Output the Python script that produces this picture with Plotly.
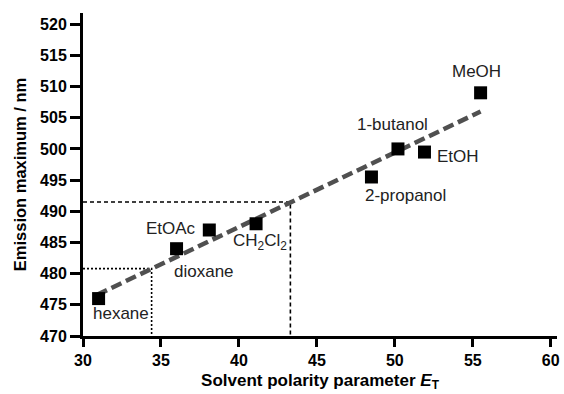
import plotly.graph_objects as go

# Solvatochromic data: emission maximum vs. Dimroth-Reichardt E_T
solvents = ["hexane", "dioxane", "EtOAc", "CH<sub>2</sub>Cl<sub>2</sub>",
            "2-propanol", "1-butanol", "EtOH", "MeOH"]
et_values = [31.0, 36.0, 38.1, 41.1, 48.5, 50.2, 51.9, 55.5]
emission_nm = [476.0, 484.0, 487.0, 488.0, 495.5, 500.0, 499.5, 509.0]

# Linear fit line (end points)
fit_x = [30.9, 55.5]
fit_y = [476.6, 506.0]

# Read-off guides: (E_T, emission)
guide_dashed = (43.3, 491.5)
guide_dotted = (34.4, 480.8)

x_ticks = [30, 35, 40, 45, 50, 55, 60]
y_ticks = [470, 475, 480, 485, 490, 495, 500, 505, 510, 515, 520]

FONT = "Liberation Sans, Arial, sans-serif"

# Label placement relative to each marker (pixels, +y is up)
label_offsets = {
    "hexane": (22, -15),
    "dioxane": (27, -23),
    "EtOAc": (-38, 2),
    "CH<sub>2</sub>Cl<sub>2</sub>": (4, -18),
    "2-propanol": (34, -19),
    "1-butanol": (-5, 24),
    "EtOH": (34, -4),
    "MeOH": (-4, 21),
}

fig = go.Figure()

# guide lines
gx, gy = guide_dashed
fig.add_trace(go.Scatter(x=[30, gx, gx], y=[gy, gy, 470], mode="lines",
                         line=dict(color="black", width=1.6, dash="4px,3px"),
                         hoverinfo="skip", showlegend=False))
gx, gy = guide_dotted
fig.add_trace(go.Scatter(x=[30, gx, gx], y=[gy, gy, 470], mode="lines",
                         line=dict(color="black", width=1.6, dash="2px,2px"),
                         hoverinfo="skip", showlegend=False))

# fit line
fig.add_trace(go.Scatter(x=fit_x, y=fit_y, mode="lines",
                         line=dict(color="#505050", width=4.5, dash="11px,5px"),
                         showlegend=False))

# data points
fig.add_trace(go.Scatter(x=et_values, y=emission_nm, mode="markers",
                         marker=dict(symbol="square", size=13, color="black"),
                         showlegend=False))

for name, xv, yv in zip(solvents, et_values, emission_nm):
    dx, dy = label_offsets[name]
    fig.add_annotation(x=xv, y=yv, text=name, showarrow=False,
                       xshift=dx, yshift=dy,
                       font=dict(family=FONT, size=17, color="#222222"))

axis_common = dict(showline=True, linecolor="black", linewidth=3,
                   ticks="outside", tickwidth=3, tickcolor="black",
                   showgrid=False, zeroline=False,
                   tickfont=dict(family=FONT, size=16, color="black", weight="bold"))

fig.update_xaxes(range=[30, 60.4], tickvals=x_ticks, ticklen=8,
                 title=dict(text="Solvent polarity parameter <i>E</i><sub>T</sub>",
                            font=dict(family=FONT, size=17, color="black", weight="bold"),
                            standoff=6),
                 **axis_common)
fig.update_yaxes(range=[470, 521.8], tickvals=y_ticks, ticklen=10,
                 title=dict(text="Emission maximum / nm",
                            font=dict(family=FONT, size=16.5, color="black", weight="bold"),
                            standoff=10),
                 **axis_common)

fig.update_layout(width=564, height=394,
                  margin=dict(l=83, r=4, t=13, b=58),
                  plot_bgcolor="white", paper_bgcolor="white")

fig.write_html("out.html")
